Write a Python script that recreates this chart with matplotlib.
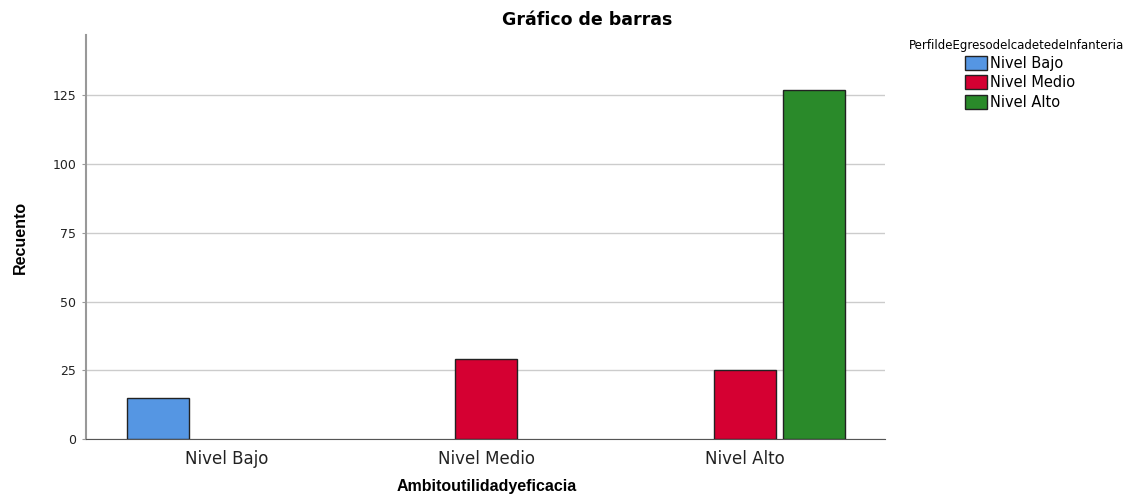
import matplotlib.pyplot as plt
from matplotlib.patches import Patch
import numpy as np

plt.rcParams['font.family'] = ['DejaVu Sans']

categorias = ["Nivel Bajo", "Nivel Medio", "Nivel Alto"]
series = ["Nivel Bajo", "Nivel Medio", "Nivel Alto"]
nivel_bajo = [15, 0, 0]
nivel_medio = [0, 29, 25]
nivel_alto = [0, 0, 127]
colores = ["#5596E3", "#D50032", "#2A8A2A"]

fig = plt.figure(figsize=(11.4, 4.97), dpi=100)
ax = fig.add_axes([86/1140, 1-439/497, (885-86)/1140, (439-35)/497])

x = np.arange(len(categorias))
ancho = 0.239
offset = 0.266
for i, vals in enumerate([nivel_bajo, nivel_medio, nivel_alto]):
    for j, v in enumerate(vals):
        if v > 0:
            ax.bar(x[j] + (i - 1) * offset, v, width=ancho, color=colores[i],
                   edgecolor="#222222", linewidth=1, zorder=3)

ax.set_xlim(-0.544, 2.54)
ax.set_ylim(0, 147)
ax.set_yticks([0, 25, 50, 75, 100, 125])
ax.set_xticks(x)
ax.set_xticklabels(categorias, fontsize=12, color="#222222")
ax.tick_params(axis='x', length=0, pad=8)
ax.tick_params(axis='y', labelsize=9, length=3, color="#999999", labelcolor="#222222", pad=4)
ax.grid(axis='y', color="#cccccc", linewidth=1, zorder=0)
for s in ["top", "right"]:
    ax.spines[s].set_visible(False)
ax.spines["left"].set_color("#999999")
ax.spines["left"].set_linewidth(1.5)
ax.spines["bottom"].set_color("#555555")

fig.text(20/1140, 1-237/497, "Recuento", rotation=90, ha="center", va="center",
         fontsize=11.5, fontweight="bold", family="Liberation Sans")
fig.text(487/1140, 1-487/497, "Ambitoutilidadyeficacia", ha="center", va="center",
         fontsize=11.5, fontweight="bold", family="Liberation Sans")
fig.text(587/1140, 1-20/497, "Gráfico de barras", ha="center", va="center",
         fontsize=12.5, fontweight="bold")

fig.text(909/1140, 1-45/497, "PerfildeEgresodelcadetedeInfanteria", ha="left",
         va="center", fontsize=8.5)
handles = [Patch(facecolor=c, edgecolor="#222222", label=s) for c, s in zip(colores, series)]
fig.legend(handles=handles, loc="upper left", bbox_to_anchor=(965/1140, 1-56/497),
           frameon=False, fontsize=10.5, handlelength=1.5, handleheight=1.1,
           handletextpad=0.2, labelspacing=0.3, borderaxespad=0, borderpad=0)

fig.savefig("out.png", dpi=100)
